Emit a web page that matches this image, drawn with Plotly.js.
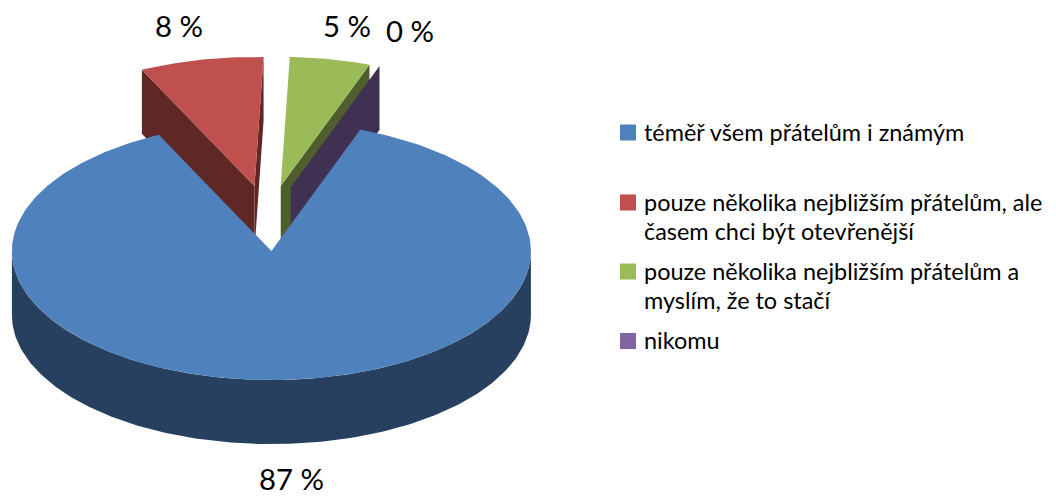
<!DOCTYPE html>
<html>
<head>
<meta charset="utf-8">
<script src="https://cdn.plot.ly/plotly-3.0.1.min.js"></script>
<style>html,body{margin:0;padding:0;background:#fff}#chart{width:1056px;height:496px}</style>
</head>
<body>
<div id="chart"></div>
<script>
// Data
const categories = ['téměř všem přátelům i známým',
  'pouze několika nejbližším přátelům, ale<br>časem chci být otevřenější',
  'pouze několika nejbližším přátelům a<br>myslím, že to stačí',
  'nikomu'];
const values = [87.3, 7.7, 5.0, 0.0];
const faceColors = ['#4F81BD', '#C0504D', '#9BBB59', '#8064A2'];
const wallColors = ['#284060', '#5F2826', '#4E5E2D', '#403152'];

// Projection of the tilted, exploded pie
const FONT = 'Lato, Carlito, Calibri, sans-serif';
const cx = 268.1, cy = 218.2, rx = 259.5, ry = 129, depth = 64, explode = 0.255, startAngle = 20;
const rad = d => d * Math.PI / 180;
const total = values.reduce((a, b) => a + b, 0);

let acc = startAngle;
const slices = values.map((v, i) => {
  const a0 = acc, a1 = acc + v / total * 360; acc = a1;
  const mid = rad((a0 + a1) / 2);
  return {i, a0, a1, ox: cx + explode * rx * Math.sin(mid), oy: cy - explode * ry * Math.cos(mid)};
});
const pt = (s, deg, dz) => [s.ox + rx * Math.sin(rad(deg)), s.oy - ry * Math.cos(rad(deg)) + (dz || 0)];
function poly(name, pts, color) {
  return {type: 'scatter', mode: 'lines', name, x: pts.map(p => p[0]), y: pts.map(p => p[1]),
    fill: 'toself', fillcolor: color, line: {width: 0, color}, hoverinfo: 'skip', showlegend: false};
}
function arc(s, a0, a1, dz) {
  const out = [], n = Math.max(1, Math.ceil(Math.abs(a1 - a0)));
  for (let k = 0; k <= n; k++) out.push(pt(s, a0 + (a1 - a0) * k / n, dz));
  return out;
}
function radialWall(s, deg) {
  const c = [s.ox, s.oy], e = pt(s, deg);
  return poly(categories[s.i] + ' wall', [c, e, [e[0], e[1] + depth], [c[0], c[1] + depth]], wallColors[s.i]);
}
function topFace(s) {
  return poly(categories[s.i], [[s.ox, s.oy]].concat(arc(s, s.a0, s.a1)), faceColors[s.i]);
}
function frontWall(s) {
  const lo = Math.max(s.a0, 90), hi = Math.min(s.a1, 270);
  return poly(categories[s.i] + ' front', arc(s, lo, hi).concat(arc(s, hi, lo, depth)), wallColors[s.i]);
}

const [blue, red, green, purple] = slices;
const traces = [
  radialWall(red, red.a0), radialWall(red, red.a1),
  radialWall(green, green.a1),
  radialWall(purple, purple.a0),
  topFace(red), topFace(green),
  frontWall(blue), topFace(blue)
];

// Custom legend: square swatches through the same axes
const legendY = [132.5, 202.5, 271.5, 341];
const legendTextY = [132, 202, 271, 340];
const legendLineGap = 28.5;
categories.forEach((c, i) => traces.push({
  type: 'scatter', mode: 'markers', name: c.replace('<br>', ' '), x: [628], y: [legendY[i]],
  marker: {symbol: 'square', size: 16, color: faceColors[i]}, hoverinfo: 'skip', showlegend: false
}));

const annotations = [];
categories.forEach((c, i) => c.split('<br>').forEach((line, k) => annotations.push({
  x: 641.5, y: legendTextY[i] + k * legendLineGap, xref: 'x', yref: 'y', text: line, showarrow: false,
  xanchor: 'left', yanchor: 'middle', align: 'left',
  font: {family: FONT, size: 23.45, color: '#000'}
})));
const labelX = [291, 179, 347, 410], labelY = [478, 25, 25, 30];
values.forEach((v, i) => annotations.push({
  x: labelX[i], y: labelY[i], xref: 'x', yref: 'y', text: Math.round(v) + ' %', showarrow: false,
  xanchor: 'center', yanchor: 'middle', font: {family: FONT, size: 29.3, color: '#000'}
}));

Plotly.newPlot('chart', traces, {
  width: 1056, height: 496, margin: {l: 0, r: 0, t: 0, b: 0},
  paper_bgcolor: '#fff', plot_bgcolor: '#fff', showlegend: false,
  xaxis: {range: [0, 1056], visible: false, fixedrange: true},
  yaxis: {range: [496, 0], visible: false, fixedrange: true},
  annotations
}, {displayModeBar: false, staticPlot: true});
</script>
</body>
</html>
